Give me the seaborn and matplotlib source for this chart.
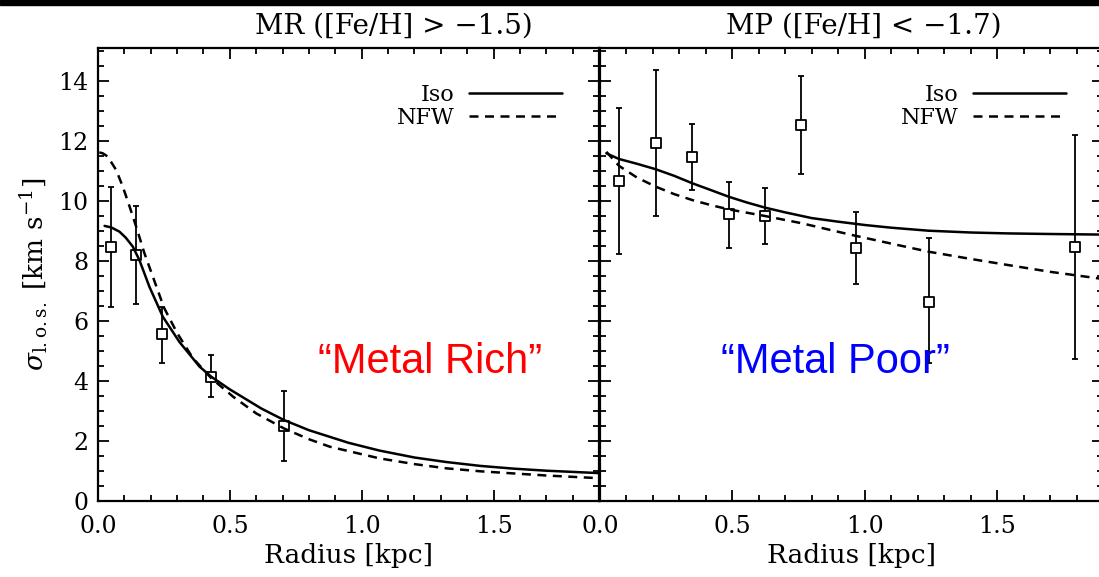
import matplotlib
matplotlib.use("Agg")
import matplotlib.pyplot as plt
from matplotlib.patches import Rectangle
from matplotlib.ticker import MultipleLocator, FormatStrFormatter
import seaborn as sns

# ------------------------------------------------------------------
# Data
# ------------------------------------------------------------------
# Metal rich (left panel) - binned dispersion
mr_r = [0.048, 0.145, 0.244, 0.430, 0.705]
mr_sig = [8.47, 8.20, 5.56, 4.14, 2.50]
mr_lo = [6.47, 6.56, 4.59, 3.46, 1.33]
mr_hi = [10.46, 9.83, 6.48, 4.87, 3.67]

# Metal rich model curves
mr_iso_r = [0.025, 0.050, 0.081, 0.105, 0.132, 0.157, 0.195, 0.246, 0.309,
            0.385, 0.430, 0.500, 0.620, 0.705, 0.800, 0.950, 1.068, 1.200,
            1.320, 1.450, 1.574, 1.700, 1.900]
mr_iso_sig = [9.17, 9.12, 8.98, 8.78, 8.48, 8.03, 7.14, 6.14, 5.30,
              4.48, 4.14, 3.72, 3.08, 2.70, 2.36, 1.94, 1.68, 1.45,
              1.30, 1.17, 1.08, 1.01, 0.93]
mr_nfw_r = [0.005, 0.018, 0.037, 0.069, 0.094, 0.120, 0.145, 0.176, 0.208,
            0.250, 0.300, 0.360, 0.430, 0.512, 0.600, 0.705, 0.800, 0.879,
            1.068, 1.200, 1.320, 1.450, 1.574, 1.700, 1.900]
mr_nfw_sig = [11.62, 11.59, 11.48, 11.03, 10.48, 9.81, 9.14, 8.26, 7.48,
              6.45, 5.60, 4.76, 4.09, 3.48, 2.92, 2.42, 2.06, 1.81,
              1.42, 1.23, 1.09, 0.99, 0.92, 0.85, 0.76]

# Metal poor (right panel)
mp_r = [0.072, 0.210, 0.349, 0.487, 0.623, 0.761, 0.967, 1.241, 1.793]
mp_sig = [10.67, 11.92, 11.48, 9.56, 9.50, 12.53, 8.44, 6.62, 8.46]
mp_lo = [8.22, 9.50, 10.37, 8.44, 8.56, 10.89, 7.23, 4.60, 4.72]
mp_hi = [13.11, 14.37, 12.57, 10.62, 10.44, 14.18, 9.62, 8.76, 12.20]

mp_iso_r = [0.024, 0.072, 0.140, 0.210, 0.280, 0.349, 0.420, 0.487, 0.555,
            0.623, 0.700, 0.800, 0.900, 1.000, 1.100, 1.241, 1.400, 1.538,
            1.700, 1.900]
mp_iso_sig = [11.59, 11.40, 11.24, 11.06, 10.84, 10.59, 10.36, 10.14, 9.95,
              9.78, 9.62, 9.43, 9.31, 9.20, 9.11, 9.01, 8.95, 8.92,
              8.90, 8.88]
mp_nfw_r = [0.024, 0.072, 0.140, 0.210, 0.280, 0.349, 0.420, 0.487, 0.623,
            0.761, 0.950, 1.100, 1.241, 1.400, 1.538, 1.700, 1.900]
mp_nfw_sig = [11.64, 11.17, 10.78, 10.48, 10.23, 10.03, 9.86, 9.72, 9.50,
              9.26, 8.87, 8.58, 8.31, 8.07, 7.87, 7.64, 7.40]

titles = ["MR ([Fe/H] > \u22121.5)", "MP ([Fe/H] < \u22121.7)"]
title_x = [0.59, 0.525]
tags = ["\u201cMetal Rich\u201d", "\u201cMetal Poor\u201d"]
tag_x = [1.258, 0.888]
tag_colors = ["#FF0000", "#0000FF"]

# ------------------------------------------------------------------
# Style
# ------------------------------------------------------------------
sns.set_theme(style="ticks")
plt.rcParams["font.family"] = ["DejaVu Serif"]
plt.rcParams["mathtext.fontset"] = "dejavuserif"
plt.rcParams["axes.linewidth"] = 1.6
plt.rcParams["axes.edgecolor"] = "black"
plt.rcParams["text.color"] = "black"
plt.rcParams["axes.labelcolor"] = "black"
plt.rcParams["xtick.color"] = "black"
plt.rcParams["ytick.color"] = "black"

W, H = 1099, 577
fig = plt.figure(figsize=(W / 100, H / 100), dpi=100)
fig.add_artist(Rectangle((0, 1 - 5 / H), 1, 5 / H, transform=fig.transFigure,
                         color="black", zorder=10))

ax_l = fig.add_axes([98 / W, (H - 501) / H, 501 / W, 453 / H])
ax_r = fig.add_axes([600 / W, (H - 501) / H, 503 / W, 453 / H])

panels = [
    (ax_l, mr_r, mr_sig, mr_lo, mr_hi, mr_iso_r, mr_iso_sig, mr_nfw_r, mr_nfw_sig),
    (ax_r, mp_r, mp_sig, mp_lo, mp_hi, mp_iso_r, mp_iso_sig, mp_nfw_r, mp_nfw_sig),
]

for i, (ax, r, sig, lo, hi, ir, isig, nr, nsig) in enumerate(panels):
    yerr = [[s - l for s, l in zip(sig, lo)], [h - s for s, h in zip(sig, hi)]]
    ax.errorbar(r, sig, yerr=yerr, fmt="none", ecolor="black",
                elinewidth=1.3, capsize=2, capthick=1.3, zorder=2)
    sns.scatterplot(x=r, y=sig, ax=ax, marker="s", s=60, facecolor="white",
                    edgecolor="black", linewidth=1.3, zorder=3)
    sns.lineplot(x=ir, y=isig, ax=ax, color="black", lw=1.8, sort=False,
                 label="Iso", zorder=4)
    sns.lineplot(x=nr, y=nsig, ax=ax, color="black", lw=1.8, sort=False,
                 label="NFW", zorder=4)
    ax.lines[-1].set_dashes((3.6, 2.6))

    ax.set_xlim(0, 1.9)
    ax.set_ylim(0, 15.1)
    ax.xaxis.set_major_locator(MultipleLocator(0.5))
    ax.xaxis.set_minor_locator(MultipleLocator(0.1))
    ax.yaxis.set_major_locator(MultipleLocator(2))
    ax.yaxis.set_minor_locator(MultipleLocator(0.5))
    ax.xaxis.set_major_formatter(FormatStrFormatter("%.1f"))
    ax.tick_params(which="both", direction="in", top=True, right=True,
                   labelsize=17, width=1.3)
    ax.tick_params(which="major", length=8, pad=7)
    ax.tick_params(axis="x", which="major", pad=10)
    ax.tick_params(which="minor", length=4)
    ax.set_xlabel("Radius [kpc]", fontsize=19, labelpad=4)
    ax.set_title(titles[i], fontsize=20, pad=10, x=title_x[i])

    ax.legend(loc="upper right", bbox_to_anchor=(0.944, 0.941), borderaxespad=0,
              frameon=False, markerfirst=False, fontsize=16, handlelength=4.2,
              handletextpad=0.65, labelspacing=0.05)

    ax.text(tag_x[i], 4.63, tags[i], color=tag_colors[i],
            fontsize=30, family="Liberation Sans", ha="center", va="center",
            zorder=5)

ax_l.set_ylabel(r"$\sigma_{\rm l.o.s.}$ [km s$^{-1}$]", fontsize=19, labelpad=6)
ax_r.tick_params(labelleft=False)

fig.savefig("out.png", dpi=100)
